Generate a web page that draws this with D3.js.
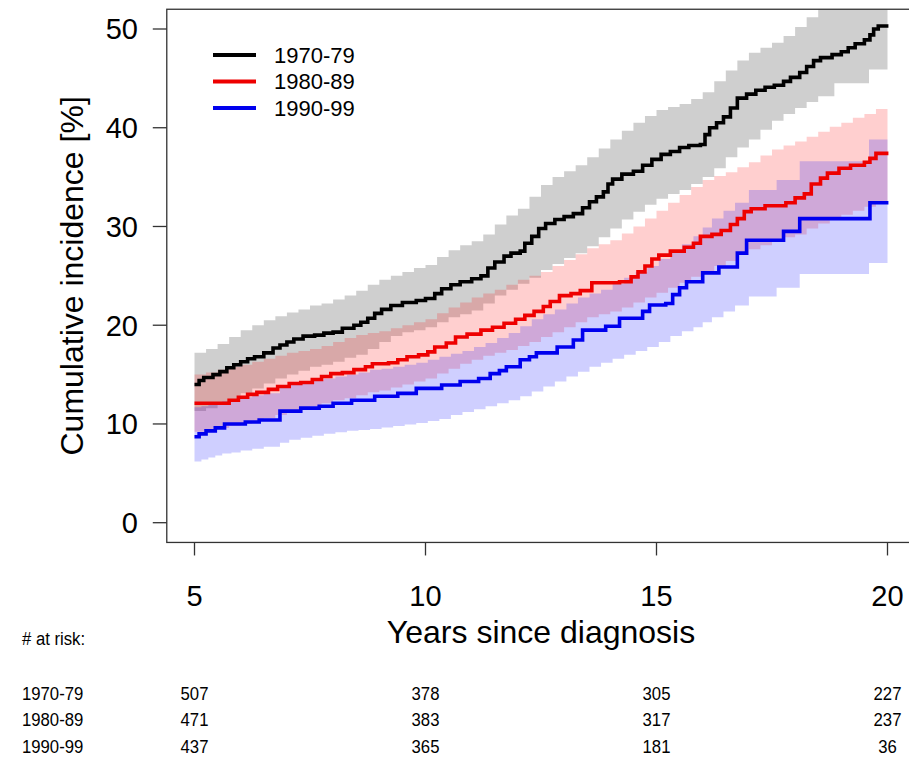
<!DOCTYPE html>
<html>
<head>
<meta charset="utf-8">
<script src="https://cdn.jsdelivr.net/npm/d3@7"></script>
<style>
  body { margin: 0; background: #fff; }
  svg { display: block; }
  text { font-family: "Liberation Sans", Arial, sans-serif; fill: #000; }
</style>
</head>
<body>
<div id="chart"></div>
<script>
// cohorts, ticks and numbers at risk
const groups = ["1970-79", "1980-89", "1990-99"];
const xTicks = [5, 10, 15, 20];
const yTicks = [0, 10, 20, 30, 40, 50];
const riskTimes = [5, 10, 15, 20];
const risk7079 = [507, 378, 305, 227];
const risk8089 = [471, 383, 317, 237];
const risk9099 = [437, 365, 181, 36];

// cumulative incidence [%], step estimates: [years, value]
const est7079 = [[5,14.0],[5.1,14.4],[5.2,14.7],[5.4,15.0],[5.55,15.3],[5.7,15.7],[5.85,16.0],[6.0,16.3],[6.15,16.6],[6.3,16.8],[6.5,17.2],[6.7,17.7],[6.85,18.0],[7.0,18.3],[7.15,18.6],[7.35,18.9],[7.6,19.0],[7.8,19.2],[8.0,19.3],[8.2,19.7],[8.45,20.0],[8.6,20.3],[8.75,20.7],[8.9,21.2],[9.05,21.6],[9.25,22.0],[9.5,22.3],[9.8,22.5],[10.0,22.7],[10.2,23.2],[10.35,23.7],[10.55,24.1],[10.75,24.4],[11.0,24.7],[11.2,25.0],[11.35,25.8],[11.5,26.4],[11.7,27.0],[11.85,27.3],[12.05,27.5],[12.15,28.3],[12.3,29.0],[12.45,29.8],[12.6,30.3],[12.8,30.7],[13.0,31.0],[13.2,31.3],[13.4,31.9],[13.55,32.5],[13.7,33.0],[13.85,33.5],[13.95,34.3],[14.05,34.8],[14.25,35.3],[14.5,35.6],[14.7,36.2],[14.9,36.8],[15.1,37.3],[15.3,37.6],[15.5,38.0],[15.7,38.2],[15.95,38.3],[16.05,39.3],[16.15,40.0],[16.3,40.5],[16.45,41.1],[16.6,42.0],[16.75,43.0],[16.95,43.4],[17.15,43.8],[17.35,44.1],[17.55,44.3],[17.75,44.7],[17.9,45.1],[18.1,45.6],[18.25,46.2],[18.4,46.8],[18.55,47.1],[18.8,47.4],[19.0,47.7],[19.15,48.1],[19.3,48.5],[19.5,48.9],[19.62,49.4],[19.7,50.0],[19.8,50.3],[20.02,50.3]];
const est8089 = [[5,12.1],[5.75,12.4],[5.95,12.7],[6.15,13.0],[6.35,13.2],[6.6,13.5],[6.8,13.8],[7.05,14.1],[7.3,14.2],[7.55,14.5],[7.75,14.8],[7.95,15.1],[8.2,15.2],[8.45,15.5],[8.7,15.8],[8.85,16.1],[9.2,16.2],[9.4,16.5],[9.6,16.8],[9.85,17.0],[10.05,17.3],[10.2,17.8],[10.45,18.2],[10.65,18.8],[10.9,19.1],[11.2,19.5],[11.45,19.8],[11.7,20.2],[11.95,20.6],[12.15,21.0],[12.35,21.4],[12.55,21.9],[12.7,22.4],[12.9,23.0],[13.15,23.2],[13.35,23.5],[13.6,24.3],[14.2,24.4],[14.45,24.9],[14.6,25.4],[14.75,26.0],[14.9,26.7],[15.05,27.1],[15.3,27.5],[15.6,27.9],[15.8,28.3],[15.95,29.0],[16.2,29.2],[16.4,29.6],[16.6,30.2],[16.75,30.8],[16.9,31.5],[17.05,31.8],[17.35,32.1],[17.8,32.4],[18.0,32.9],[18.2,33.3],[18.35,34.3],[18.55,34.9],[18.7,35.4],[18.95,35.9],[19.2,36.2],[19.5,36.5],[19.62,36.9],[19.75,37.4],[20.02,37.4]];
const est9099 = [[5,8.7],[5.1,9.0],[5.25,9.3],[5.45,9.6],[5.65,10.0],[6.1,10.2],[6.4,10.4],[6.85,11.3],[7.3,11.6],[7.7,11.8],[8.0,12.1],[8.4,12.4],[8.9,12.8],[9.4,13.1],[9.8,13.6],[10.35,13.95],[10.75,14.3],[11.15,14.6],[11.4,15.1],[11.6,15.4],[11.75,15.8],[12.05,16.5],[12.25,16.8],[12.4,17.2],[12.85,17.8],[13.2,18.5],[13.4,19.5],[13.9,19.9],[14.2,20.7],[14.7,21.4],[14.85,22.05],[15.2,22.2],[15.35,23.1],[15.5,23.8],[15.65,24.4],[16.0,25.3],[16.35,25.9],[16.75,27.3],[16.95,28.6],[17.75,29.5],[18.1,30.8],[19.62,32.4],[20.02,32.4]];

// pointwise confidence bands: [years, lower, upper]
const band7079 = [[5,11.3,17.2],[5.25,11.6,17.6],[5.5,12.0,18.1],[5.75,12.5,18.8],[6,13.1,19.5],[6.25,13.6,20.0],[6.5,14.1,20.5],[6.75,14.6,20.9],[7,15.0,21.3],[7.25,15.4,21.6],[7.5,15.8,22.0],[7.75,16.0,22.2],[8,16.3,22.6],[8.25,16.7,23.0],[8.5,17.0,23.5],[8.75,17.6,24.1],[9,18.3,24.6],[9.25,18.9,25.0],[9.5,19.3,25.4],[9.75,19.5,25.8],[10,19.8,26.1],[10.25,20.3,26.9],[10.5,20.8,27.6],[10.75,21.1,28.1],[11,21.5,28.5],[11.25,22.2,29.2],[11.5,23.0,30.2],[11.75,23.6,31.1],[12,24.2,31.8],[12.25,24.8,33.0],[12.5,25.6,34.2],[12.75,26.2,35.0],[13,26.8,35.6],[13.25,27.3,36.2],[13.5,28.0,37.0],[13.75,28.9,37.9],[14,29.8,38.8],[14.25,30.7,39.7],[14.5,31.5,40.5],[14.75,32.2,41.2],[15,32.8,41.8],[15.25,33.3,42.1],[15.5,33.7,42.4],[15.75,34.3,42.9],[16,35.0,43.6],[16.25,35.9,44.7],[16.5,37.0,45.8],[16.75,38.0,46.8],[17,38.8,47.6],[17.25,39.8,48.1],[17.5,40.7,48.6],[17.75,41.4,49.3],[18,42.0,50.2],[18.25,42.6,51.2],[18.5,43.2,52.5],[18.85,44.5,54.0],[19.6,45.9,55.5],[20,45.9,55.5]];
const band8089 = [[5,9.2,15.0],[5.25,9.4,15.2],[5.5,9.6,15.5],[5.75,9.8,15.8],[6,10.0,16.0],[6.25,10.3,16.3],[6.5,10.6,16.6],[6.75,10.9,16.9],[7,11.2,17.2],[7.25,11.5,17.4],[7.5,11.8,17.6],[7.75,12.1,17.9],[8,12.4,18.3],[8.25,12.6,18.7],[8.5,12.9,19.0],[8.75,13.2,19.2],[9,13.4,19.4],[9.25,13.7,19.7],[9.5,14.0,20.0],[9.75,14.3,20.3],[10,14.6,20.6],[10.25,15.1,21.2],[10.5,15.6,21.8],[10.75,16.1,22.3],[11,16.5,22.8],[11.25,16.9,23.2],[11.5,17.2,23.6],[11.75,17.5,24.1],[12,17.9,24.6],[12.25,18.3,25.0],[12.5,18.8,25.4],[12.75,19.3,26.0],[13,19.8,26.6],[13.25,20.3,27.2],[13.5,20.8,27.8],[13.75,21.1,28.2],[14,21.4,28.6],[14.25,21.8,29.3],[14.5,22.3,30.0],[14.75,22.8,30.8],[15,23.3,31.6],[15.25,23.8,32.4],[15.5,24.3,33.2],[15.75,24.9,34.0],[16,25.5,34.7],[16.25,26.0,35.1],[16.5,26.5,35.5],[16.75,27.1,36.0],[17,27.7,36.5],[17.25,28.1,37.2],[17.5,28.5,37.8],[17.75,28.9,38.2],[18,29.2,38.6],[18.25,29.8,39.1],[18.5,30.3,39.6],[18.75,30.8,40.1],[19,31.2,40.5],[19.25,31.6,41.0],[19.5,32.0,41.4],[19.75,32.5,41.9],[20,32.5,41.9]];
const band9099 = [[5,6.2,11.7],[5.15,6.4,11.8],[5.3,6.6,12.0],[5.45,6.8,12.1],[5.6,7.0,12.3],[5.8,7.1,12.5],[6,7.3,12.7],[6.25,7.5,12.9],[6.5,7.7,13.1],[6.85,8.1,13.9],[7.05,8.4,14.1],[7.3,8.6,14.3],[7.55,8.8,14.4],[7.8,9.0,14.6],[8.05,9.15,14.8],[8.3,9.3,15.0],[8.55,9.4,15.2],[8.8,9.5,15.5],[9.05,9.65,15.6],[9.3,9.8,15.8],[9.55,9.95,16.0],[9.8,10.1,16.2],[10.05,10.3,16.5],[10.3,10.5,16.8],[10.55,10.9,17.1],[10.8,11.2,17.4],[11.05,11.5,17.8],[11.3,11.8,18.2],[11.55,12.1,18.7],[11.8,12.4,19.2],[12.05,12.8,19.9],[12.3,13.3,20.6],[12.55,13.8,21.1],[12.8,14.3,21.6],[13.05,14.8,22.2],[13.3,15.3,22.8],[13.55,15.8,23.2],[13.8,16.2,23.6],[14.05,16.6,24.2],[14.3,17.0,24.8],[14.55,17.4,25.4],[14.8,17.8,26.0],[15.05,18.3,26.7],[15.3,18.9,27.5],[15.55,19.4,28.2],[15.8,19.8,29.0],[16,20.3,29.9],[16.2,20.8,30.8],[16.45,21.4,31.6],[16.7,22.0,32.4],[17,22.9,33.7],[17.6,23.8,34.7],[18.1,25.2,36.6],[19.6,26.3,38.8],[20,26.3,38.8]];

const series = [
  { label: groups[0], est: est7079, band: band7079, risk: risk7079, line: "#000000", fill: "rgba(0,0,0,0.19)" },
  { label: groups[1], est: est8089, band: band8089, risk: risk8089, line: "#ee0000", fill: "rgba(255,0,0,0.19)" },
  { label: groups[2], est: est9099, band: band9099, risk: risk9099, line: "#0000ee", fill: "rgba(0,0,255,0.19)" }
];

const W = 909, H = 757;
const FONT_AXIS = 29, FONT_TITLE = 32, FONT_TABLE = 19;

const svg = d3.select("#chart").append("svg")
  .attr("width", W)
  .attr("height", H);

// R style: 4% padding around the data range
const x = d3.scaleLinear().domain([5, 20]).range([194.5, 887.5]);
const y = d3.scaleLinear().domain([0, 50]).range([522.7, 29]);
const xPad = [4.4, 20.6], yPad = [-2, 52];
const box = { x0: x(xPad[0]), x1: x(xPad[1]), y0: y(yPad[1]), y1: y(yPad[0]) };

svg.append("clipPath").attr("id", "plotclip")
  .append("rect")
  .attr("x", box.x0).attr("y", box.y0)
  .attr("width", box.x1 - box.x0).attr("height", box.y1 - box.y0);

const plot = svg.append("g").attr("clip-path", "url(#plotclip)");

const area = d3.area()
  .curve(d3.curveStepAfter)
  .x(d => x(d[0]))
  .y0(d => y(d[1]))
  .y1(d => y(d[2]));

const line = d3.line()
  .curve(d3.curveStepAfter)
  .x(d => x(d[0]))
  .y(d => y(d[1]));

plot.selectAll("path.band")
  .data(series)
  .enter().append("path")
  .attr("class", "band")
  .attr("d", d => area(d.band))
  .attr("fill", d => d.fill)
  .attr("stroke", "none");

plot.selectAll("path.est")
  .data(series)
  .enter().append("path")
  .attr("class", "est")
  .attr("d", d => line(d.est))
  .attr("fill", "none")
  .attr("stroke", d => d.line)
  .attr("stroke-width", 3.6)
  .attr("stroke-linejoin", "miter");

// frame
svg.append("rect")
  .attr("x", box.x0).attr("y", box.y0)
  .attr("width", box.x1 - box.x0).attr("height", box.y1 - box.y0)
  .attr("fill", "none")
  .attr("stroke", "#333")
  .attr("stroke-width", 1.3);

// x axis (ticks only, line is the frame)
const xAxis = svg.append("g");
xAxis.selectAll("line")
  .data(xTicks)
  .enter().append("line")
  .attr("x1", d => x(d)).attr("x2", d => x(d))
  .attr("y1", box.y1).attr("y2", box.y1 + 13)
  .attr("stroke", "#333").attr("stroke-width", 1.3);
xAxis.selectAll("text")
  .data(xTicks)
  .enter().append("text")
  .attr("x", d => x(d))
  .attr("y", 606)
  .attr("text-anchor", "middle")
  .attr("font-size", FONT_AXIS)
  .text(d => d);

const yAxis = svg.append("g");
yAxis.selectAll("line")
  .data(yTicks)
  .enter().append("line")
  .attr("x1", box.x0 - 14).attr("x2", box.x0)
  .attr("y1", d => y(d)).attr("y2", d => y(d))
  .attr("stroke", "#333").attr("stroke-width", 1.3);
yAxis.selectAll("text")
  .data(yTicks)
  .enter().append("text")
  .attr("x", 138)
  .attr("y", d => y(d))
  .attr("dy", "0.36em")
  .attr("text-anchor", "end")
  .attr("font-size", FONT_AXIS)
  .text(d => d);

svg.append("text")
  .attr("x", (box.x0 + box.x1) / 2)
  .attr("y", 643)
  .attr("text-anchor", "middle")
  .attr("font-size", FONT_TITLE)
  .text("Years since diagnosis");

svg.append("text")
  .attr("transform", `translate(83,${(box.y0 + box.y1) / 2}) rotate(-90)`)
  .attr("text-anchor", "middle")
  .attr("font-size", FONT_TITLE)
  .text("Cumulative incidence [%]");

// legend
const legend = svg.append("g");
const leg = legend.selectAll("g")
  .data(series)
  .enter().append("g")
  .attr("transform", (d, i) => `translate(213,${55 + i * 26.5})`);
leg.append("line")
  .attr("x1", 0).attr("x2", 43)
  .attr("stroke", d => d.line)
  .attr("stroke-width", 4);
leg.append("text")
  .attr("x", 61)
  .attr("dy", "0.36em")
  .attr("font-size", 22)
  .text(d => d.label);

// numbers at risk
const rowY = i => 699.5 + i * 26.5;
const narrow = (g, px, py) => g.attr("transform", `translate(${px},${py}) scale(0.88,1)`);
svg.append("text")
  .call(narrow, 22, 645)
  .attr("font-size", FONT_TABLE)
  .text("# at risk:");

const rows = svg.selectAll("g.riskrow")
  .data(series)
  .enter().append("g")
  .attr("class", "riskrow");
rows.append("text")
  .each(function (d, i) { narrow(d3.select(this), 22, rowY(i)); })
  .attr("font-size", FONT_TABLE)
  .text(d => d.label);
rows.each(function (d, i) {
  d3.select(this).selectAll("text.n")
    .data(d.risk)
    .enter().append("text")
    .attr("class", "n")
    .each(function (v, j) { narrow(d3.select(this), x(riskTimes[j]), rowY(i)); })
    .attr("text-anchor", "middle")
    .attr("font-size", FONT_TABLE)
    .text(v => v);
});
</script>
</body>
</html>
